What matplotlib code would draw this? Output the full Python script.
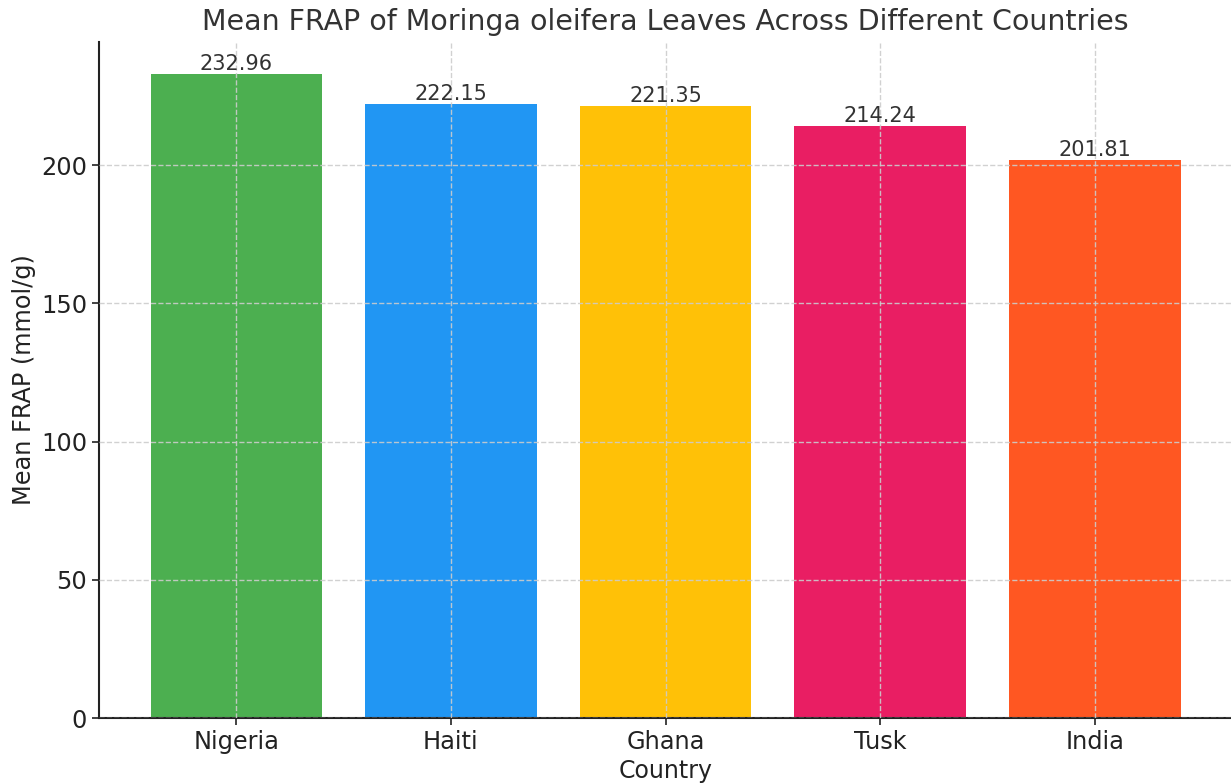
import matplotlib
matplotlib.use("Agg")
import matplotlib.pyplot as plt

countries = ["Nigeria", "Haiti", "Ghana", "Tusk", "India"]
frap = [232.96, 222.15, 221.35, 214.24, 201.81]
colors = ["#4CAF50", "#2196F3", "#FFC107", "#E91E63", "#FF5722"]

fig = plt.figure(figsize=(12.31, 7.84), dpi=100)
ax = fig.add_axes([99/1231, 66/784, 1133/1231, 676/784])
bars = ax.bar(countries, frap, color=colors, width=0.8)
for b, v in zip(bars, frap):
    ax.text(b.get_x() + b.get_width()/2, v, f"{v:.2f}", ha="center", va="bottom",
            fontsize=15, color="#333333")
ax.set_title("Mean FRAP of Moringa oleifera Leaves Across Different Countries",
             fontsize=20.5, color="#333333", pad=9)
ax.set_xlabel("Country", fontsize=17, color="#222222", labelpad=4)
ax.set_ylabel("Mean FRAP (mmol/g)", fontsize=17.3, color="#222222", labelpad=4)
ax.tick_params(axis="both", labelsize=17.3, colors="#222222", length=5, width=1.2)
ax.grid(True, linestyle="--", color="#cccccc", linewidth=1, alpha=0.9)
ax.set_axisbelow(False)
for s in ["top", "right"]:
    ax.spines[s].set_visible(False)
for s in ["left", "bottom"]:
    ax.spines[s].set_color("#222222")
    ax.spines[s].set_linewidth(1.5)
fig.savefig("out.png", dpi=100)
